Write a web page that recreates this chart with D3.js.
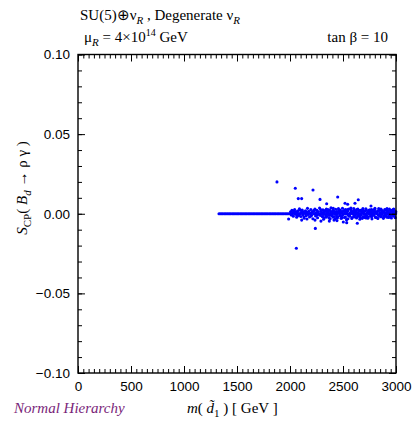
<!DOCTYPE html>
<html>
<head>
<meta charset="utf-8">
<script src="https://cdn.jsdelivr.net/npm/d3@7"></script>
<style>
  body { margin: 0; background: #fff; }
  svg { display: block; }
</style>
</head>
<body>
<script>
const wdth = 416;
const hght = 422;
const margin = { left: 78, right: 20, top: 54.5, bottom: 49 };

const xTicks = [0, 500, 1000, 1500, 2000, 2500, 3000];
const yTicks = [-0.10, -0.05, 0.00, 0.05, 0.10];

// masses where S_CP sits on zero (the flat branch)
const zeroMasses = [
  1330, 1342, 1355, 1367, 1380, 1392, 1405, 1417, 1430, 1442, 1455, 1467, 1480, 1492,
  1505, 1517, 1530, 1542, 1555, 1567, 1580, 1592, 1605, 1617, 1630, 1642, 1655, 1667,
  1680, 1692, 1705, 1717, 1730, 1742, 1755, 1767, 1780, 1792, 1805, 1817, 1830, 1842,
  1855, 1867, 1880, 1892, 1905, 1917, 1930, 1942, 1955, 1967, 1980, 1992, 2010, 2022,
  2047, 2072, 2097, 2122, 2147, 2172, 2197, 2222, 2247, 2272, 2297, 2322, 2347, 2372,
  2397, 2422, 2447, 2472, 2497, 2522, 2547, 2572, 2597, 2622, 2647, 2672, 2697, 2722,
  2747, 2772, 2797, 2822, 2847, 2872, 2897, 2922, 2947, 2972, 2997
];

// the scattered band above ~2000 GeV: [mass, S_CP]
const bandPoints = [
  [2005, 0.0012], [2012, -0.0008], [2018, 0.0021], [2025, 0.0004], [2031, -0.0015],
  [2038, 0.0009], [2044, 0.0027], [2051, -0.0003], [2057, 0.0014], [2063, -0.0022],
  [2070, 0.0006], [2076, 0.0018], [2083, -0.0011], [2089, 0.0031], [2095, 0.0002],
  [2102, -0.0017], [2108, 0.0010], [2115, 0.0024], [2121, -0.0006], [2127, 0.0013],
  [2134, -0.0028], [2140, 0.0005], [2146, 0.0019], [2153, -0.0013], [2159, 0.0008],
  [2165, 0.0034], [2172, -0.0004], [2178, 0.0016], [2184, -0.0020], [2191, 0.0003],
  [2197, 0.0026], [2203, -0.0009], [2210, 0.0011], [2216, -0.0031], [2222, 0.0017],
  [2229, 0.0001], [2235, 0.0029], [2241, -0.0014], [2248, 0.0007], [2254, 0.0022],
  [2260, -0.0025], [2267, 0.0012], [2273, -0.0002], [2279, 0.0036], [2286, -0.0010],
  [2292, 0.0015], [2298, 0.0004], [2305, -0.0018], [2311, 0.0025], [2317, -0.0035],
  [2324, 0.0009], [2330, 0.0020], [2336, -0.0007], [2343, 0.0030], [2349, -0.0016],
  [2355, 0.0006], [2362, 0.0013], [2368, -0.0027], [2374, 0.0023], [2381, -0.0003],
  [2387, 0.0038], [2393, -0.0012], [2400, 0.0010], [2406, -0.0021], [2412, 0.0017],
  [2419, 0.0002], [2425, -0.0033], [2431, 0.0028], [2438, -0.0008], [2444, 0.0014],
  [2450, -0.0019], [2457, 0.0032], [2463, 0.0005], [2469, -0.0013], [2476, 0.0021],
  [2482, -0.0029], [2488, 0.0008], [2495, 0.0035], [2501, -0.0005], [2507, 0.0016],
  [2514, -0.0024], [2520, 0.0011], [2526, 0.0027], [2533, -0.0037], [2539, 0.0003],
  [2545, 0.0019], [2552, -0.0011], [2558, 0.0030], [2564, -0.0016], [2571, 0.0007],
  [2577, 0.0024], [2583, -0.0030], [2590, 0.0013], [2596, -0.0002], [2602, 0.0033],
  [2609, -0.0020], [2615, 0.0009], [2621, 0.0018], [2628, -0.0026], [2634, 0.0004],
  [2640, 0.0029], [2647, -0.0009], [2653, 0.0015], [2659, -0.0034], [2666, 0.0022],
  [2672, -0.0006], [2678, 0.0012], [2685, 0.0026], [2691, -0.0018], [2697, 0.0006],
  [2704, -0.0023], [2710, 0.0019], [2716, 0.0031], [2723, -0.0012], [2729, 0.0008],
  [2735, -0.0028], [2742, 0.0017], [2748, 0.0002], [2754, 0.0025], [2761, -0.0015],
  [2767, 0.0010], [2773, -0.0032], [2780, 0.0021], [2786, 0.0003], [2792, -0.0008],
  [2799, 0.0028], [2805, -0.0021], [2811, 0.0013], [2818, 0.0005], [2824, -0.0025],
  [2830, 0.0018], [2837, 0.0033], [2843, -0.0011], [2849, 0.0007], [2856, -0.0019],
  [2862, 0.0024], [2868, -0.0004], [2875, 0.0015], [2881, -0.0029], [2887, 0.0011],
  [2894, 0.0027], [2900, -0.0013], [2906, 0.0004], [2913, -0.0022], [2919, 0.0019],
  [2925, 0.0008], [2932, -0.0016], [2938, 0.0030], [2944, -0.0007], [2951, 0.0014],
  [2957, -0.0027], [2963, 0.0022], [2970, 0.0002], [2976, -0.0012], [2982, 0.0017],
  [2989, -0.0020], [2995, 0.0009],
  [2304, 0.0008], [2315, -0.0005], [2327, 0.0016], [2339, -0.0022], [2351, 0.0003],
  [2358, 0.0026], [2371, -0.0010], [2384, 0.0012], [2396, -0.0004], [2403, 0.0021],
  [2416, -0.0017], [2428, 0.0006], [2435, 0.0013], [2447, -0.0026], [2454, 0.0009],
  [2466, 0.0024], [2473, -0.0006], [2485, 0.0011], [2492, -0.0014], [2504, 0.0019],
  [2511, 0.0001], [2523, -0.0020], [2530, 0.0015], [2542, -0.0003], [2549, 0.0028],
  [2561, -0.0012], [2568, 0.0005], [2580, 0.0017], [2587, -0.0024], [2599, 0.0010],
  [2606, 0.0023], [2618, -0.0008], [2625, 0.0014], [2637, -0.0017], [2644, 0.0003],
  [2656, 0.0020], [2663, -0.0013], [2675, 0.0007], [2682, -0.0029], [2694, 0.0016],
  [2701, 0.0001], [2713, -0.0010], [2720, 0.0024], [2732, 0.0006], [2739, -0.0019],
  [2751, 0.0012], [2758, -0.0004], [2770, 0.0027], [2777, -0.0011], [2789, 0.0008],
  [2796, 0.0019], [2808, -0.0023], [2815, 0.0004], [2827, 0.0015], [2834, -0.0009],
  [2846, 0.0022], [2853, -0.0015], [2865, 0.0006], [2872, 0.0013], [2884, -0.0020],
  [2891, 0.0010], [2903, 0.0025], [2910, -0.0006], [2922, 0.0016], [2929, -0.0024],
  [2941, 0.0005], [2948, 0.0020], [2960, -0.0010], [2967, 0.0012], [2979, 0.0029],
  [2986, -0.0004], [2998, 0.0014],
  [2034, 0.0017], [2066, -0.0012], [2099, 0.0022], [2131, -0.0019], [2163, 0.0011],
  [2195, -0.0016], [2227, 0.0021], [2258, -0.0008], [2289, 0.0027], [2320, -0.0024],
  [2352, 0.0018], [2379, -0.0031], [2408, 0.0034], [2439, -0.0021], [2461, 0.0017],
  [2489, -0.0027], [2517, 0.0024], [2547, -0.0031], [2575, 0.0036], [2603, -0.0014],
  [2631, 0.0027], [2661, -0.0022], [2688, 0.0032], [2717, -0.0027], [2744, 0.0022],
  [2772, -0.0018], [2801, 0.0034], [2829, -0.0030], [2858, 0.0029], [2886, -0.0016],
  [2915, 0.0032], [2943, -0.0021], [2972, 0.0026], [2993, -0.0025]
];

// isolated points away from the band
const outlierPoints = [
  [1877, 0.0200], [2050, 0.0160], [2078, 0.0095], [2110, 0.0095], [2217, 0.0149],
  [2283, 0.0090], [2450, 0.0105], [2346, 0.0063], [2519, 0.0066], [2544, 0.0060],
  [2644, 0.0088], [2613, 0.0066], [2764, 0.0049], [1987, -0.0033], [2239, -0.0092],
  [2060, -0.0217], [2110, -0.0040], [2160, -0.0033], [2635, -0.0060], [2503, -0.0052],
  [2535, -0.0056], [2443, -0.0043], [2371, -0.0046], [2292, -0.0046], [2415, -0.0040],
  [2236, -0.0040]
];

const allPoints = zeroMasses.map(m => [m, 0]).concat(bandPoints, outlierPoints);

const x = d3.scaleLinear().domain([0, 3000]).range([margin.left, wdth - margin.right]);
const y = d3.scaleLinear().domain([-0.1, 0.1]).range([hght - margin.bottom, margin.top]);

const svg = d3.select("body").append("svg")
  .attr("width", wdth)
  .attr("height", hght);

const sans = "'Liberation Sans', Arial, sans-serif";
const serif = "'Liberation Serif', 'Times New Roman', serif";

// points
svg.append("g")
  .selectAll("circle")
  .data(allPoints)
  .enter()
  .append("circle")
  .attr("cx", d => x(d[0]))
  .attr("cy", d => y(d[1]))
  .attr("r", 1.55)
  .attr("fill", "#0000ff");

// axes: ticks all point inward
const xMinor = d3.range(0, 3001, 50);
const yMinor = d3.range(-10, 11).map(v => v / 100);

function addAxis(axis, tx, ty, labels) {
  const g = svg.append("g").attr("transform", `translate(${tx},${ty})`).call(axis);
  g.select(".domain").remove();
  g.selectAll("line").attr("stroke", "#000").attr("stroke-width", 1);
  if (labels) {
    g.selectAll("text").attr("font-family", sans).attr("font-size", 13.5).attr("fill", "#000");
  }
  return g;
}

const bottomY = hght - margin.bottom;
const rightX = wdth - margin.right;

addAxis(d3.axisBottom(x).tickValues(xTicks).tickSize(-7).tickPadding(8).tickFormat(d3.format("d")), 0, bottomY, true);
addAxis(d3.axisBottom(x).tickValues(xMinor).tickSize(-4).tickFormat(""), 0, bottomY, false);
addAxis(d3.axisTop(x).tickValues(xTicks).tickSize(-7).tickFormat(""), 0, margin.top, false);
addAxis(d3.axisTop(x).tickValues(xMinor).tickSize(-4).tickFormat(""), 0, margin.top, false);

addAxis(d3.axisLeft(y).tickValues(yTicks).tickSize(-7).tickPadding(8).tickFormat(d3.format(".2f")), margin.left, 0, true);
addAxis(d3.axisLeft(y).tickValues(yMinor).tickSize(-4).tickFormat(""), margin.left, 0, false);
addAxis(d3.axisRight(y).tickValues(yTicks).tickSize(-7).tickFormat(""), rightX, 0, false);
addAxis(d3.axisRight(y).tickValues(yMinor).tickSize(-4).tickFormat(""), rightX, 0, false);

// frame
svg.append("rect")
  .attr("x", margin.left)
  .attr("y", margin.top)
  .attr("width", rightX - margin.left)
  .attr("height", bottomY - margin.top)
  .attr("fill", "none")
  .attr("stroke", "#000")
  .attr("stroke-width", 1.4);

// header text
const t1 = svg.append("text").attr("x", 80).attr("y", 20)
  .attr("font-family", serif).attr("font-size", 15).attr("fill", "#000");
t1.append("tspan").text("SU(5)\u2295\u03bd");
t1.append("tspan").text("R").attr("font-style", "italic").attr("font-size", 11).attr("dy", 4);
t1.append("tspan").text(" , Degenerate \u03bd").attr("dy", -4);
t1.append("tspan").text("R").attr("font-style", "italic").attr("font-size", 11).attr("dy", 4);

const t2 = svg.append("text").attr("x", 84).attr("y", 42)
  .attr("font-family", serif).attr("font-size", 15).attr("fill", "#000");
t2.append("tspan").text("\u03bc");
t2.append("tspan").text("R").attr("font-style", "italic").attr("font-size", 11).attr("dy", 4);
t2.append("tspan").text(" = 4\u00d710").attr("dy", -4);
t2.append("tspan").text("14").attr("font-size", 10).attr("dy", -6);
t2.append("tspan").text(" GeV").attr("dy", 6);

svg.append("text").attr("x", 388).attr("y", 42)
  .attr("text-anchor", "end")
  .attr("font-family", serif).attr("font-size", 15).attr("fill", "#000")
  .text("tan \u03b2 = 10");

// x label
const xl = svg.append("text").attr("x", 187).attr("y", 413)
  .attr("font-family", serif).attr("font-size", 15).attr("fill", "#000");
xl.append("tspan").text("m").attr("font-style", "italic");
xl.append("tspan").text("( ");
xl.append("tspan").text("d\u0303").attr("font-style", "italic");
xl.append("tspan").text("1").attr("font-size", 11).attr("dy", 4);
xl.append("tspan").text(" ) [ GeV ]").attr("dy", -4);

svg.append("text").attr("x", 14).attr("y", 413)
  .attr("font-family", serif).attr("font-size", 15).attr("font-style", "italic")
  .attr("fill", "#7a1f7a")
  .text("Normal Hierarchy");

// y label
const yl = svg.append("text")
  .attr("transform", "translate(27,188) rotate(-90)")
  .attr("text-anchor", "middle")
  .attr("font-family", serif).attr("font-size", 15).attr("fill", "#000");
yl.append("tspan").text("S").attr("font-style", "italic");
yl.append("tspan").text("CP").attr("font-size", 11).attr("dy", 4);
yl.append("tspan").text("( ").attr("dy", -4);
yl.append("tspan").text("B").attr("font-style", "italic");
yl.append("tspan").text("d").attr("font-style", "italic").attr("font-size", 11).attr("dy", 4);
yl.append("tspan").text(" \u2192 \u03c1 \u03b3 )").attr("dy", -4);
</script>
</body>
</html>
